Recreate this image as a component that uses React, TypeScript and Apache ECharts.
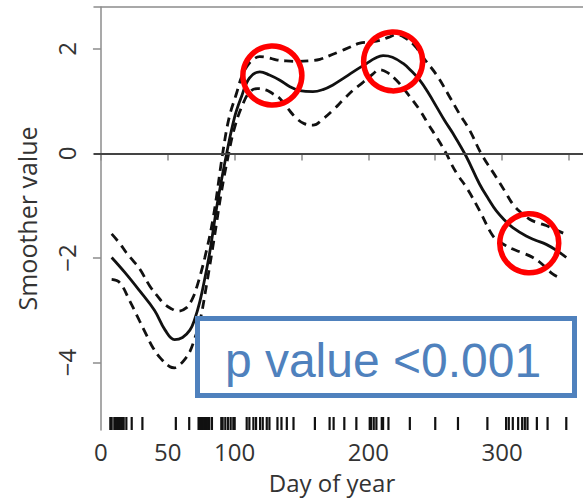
import React, { useEffect, useRef } from "react";
import * as echarts from "echarts";

// ---- data ----
const fitDays = [8, 18, 29, 40, 48, 55, 61, 66.5, 70, 74, 78, 81.5, 87.4, 94, 100, 105, 111, 118.8, 126, 133.8, 141, 148.7, 158.5, 166, 173.5, 181, 188.6, 198.6, 205, 211, 218, 226, 232, 238.4, 245, 251, 257, 263.3, 273, 283, 290, 295.7, 302, 308, 318, 325, 333, 341, 348];
const fitValues = [-1.99, -2.28, -2.63, -3.0, -3.38, -3.56, -3.52, -3.38, -3.18, -2.83, -2.35, -1.87, -0.9, 0.0, 0.7, 1.08, 1.44, 1.56, 1.5, 1.4, 1.28, 1.2, 1.18, 1.22, 1.31, 1.43, 1.56, 1.72, 1.82, 1.87, 1.84, 1.72, 1.58, 1.4, 1.15, 0.89, 0.63, 0.38, -0.05, -0.58, -0.88, -1.1, -1.28, -1.42, -1.58, -1.66, -1.74, -1.86, -1.99];

const upperDays = [8, 14, 19, 24, 29, 36.6, 42, 46.6, 52, 57.8, 64, 68, 71.5, 77.7, 84, 91.4, 96, 101.4, 105, 109, 114, 118.8, 125, 131, 138, 146, 155, 163.7, 171, 178.6, 186, 193.6, 201, 208.5, 215, 221, 228, 235, 242, 251, 260.8, 268, 275.8, 284.5, 295.7, 302, 308, 314, 320.6, 327, 333, 340, 347];
const upperValues = [-1.54, -1.72, -1.9, -2.05, -2.21, -2.54, -2.72, -2.86, -2.96, -3.02, -2.95, -2.8, -2.57, -1.99, -1.22, 0.06, 0.7, 1.15, 1.45, 1.66, 1.8, 1.85, 1.83, 1.79, 1.77, 1.76, 1.77, 1.8, 1.87, 1.95, 2.03, 2.11, 2.13, 2.16, 2.22, 2.27, 2.2, 2.05, 1.8, 1.5, 1.08, 0.76, 0.44, -0.01, -0.46, -0.72, -0.97, -1.13, -1.26, -1.33, -1.38, -1.46, -1.54];

const lowerDays = [8, 14, 21.7, 29, 34, 39, 45, 51.6, 55, 59, 63, 66.5, 70, 74, 79, 85.2, 90, 95, 100, 106.4, 111.4, 117, 123.8, 128, 133.8, 140, 146.3, 152, 158.7, 166, 173.6, 181, 188.6, 196, 203.5, 208, 214, 221, 230, 238.4, 245, 251, 258.4, 262, 267, 273.3, 283.3, 293.2, 300, 308, 315, 323, 330, 338, 345];
const lowerValues = [-2.41, -2.47, -2.83, -3.21, -3.47, -3.72, -3.93, -4.08, -4.1, -4.04, -3.93, -3.79, -3.55, -3.21, -2.51, -1.54, -0.75, -0.07, 0.5, 0.96, 1.18, 1.24, 1.21, 1.15, 1.05, 0.85, 0.67, 0.57, 0.54, 0.66, 0.83, 1.02, 1.21, 1.36, 1.52, 1.6, 1.55, 1.4, 1.12, 0.83, 0.55, 0.31, -0.01, -0.2, -0.42, -0.65, -1.1, -1.58, -1.72, -1.83, -1.9, -1.99, -2.12, -2.31, -2.4];

const rugDays = [7, 8, 10, 11, 12, 13, 14, 15, 16, 17, 19, 23, 31, 56, 66, 73, 74, 75, 76, 77, 78, 79, 80, 81, 83, 90, 91, 93, 95, 97, 99, 100, 109, 111, 114, 116, 119, 121, 124, 126, 132, 135, 139, 144, 160, 171, 174, 182, 191, 201, 202, 204, 206, 210, 211, 215, 231, 250, 267, 289, 303, 305, 308, 312, 315, 317, 319, 326, 334, 348];

const highlightDays = [128.2, 218.5, 320.3];
const highlightValues = [1.49, 1.76, -1.72];

const xTicks = [0, 50, 100, 150, 200, 250, 300, 350];
const xTickLabels = [0, 50, 100, 200, 300];
const yTicks = [-4, -2, 0, 2];

const pValueText = "p value <0.001";
const xTitle = "Day of year";
const yTitle = "Smoother value";

const X_MIN = -5.2;
const X_MAX = 360.5;
const Y_MIN = -5.29;
const Y_MAX = 2.8;

const zip = (xs: number[], ys: number[]) => xs.map((x, i) => [x, ys[i]]);

export default function App() {
  const ref = useRef<HTMLDivElement>(null);

  useEffect(() => {
    if (!ref.current) return;
    const chart = echarts.init(ref.current, null, { renderer: "svg" });
    const axisFont = "'Open Sans', 'DejaVu Sans', sans-serif";
    const frameColor = "#8c8c8c";
    const textColor = "#333333";
    const minus = (v: number) => (v < 0 ? "\u2212" + Math.abs(v) : String(v));

    chart.setOption({
      animation: false,
      backgroundColor: "#ffffff",
      grid: { left: 94, top: 7, right: 0, bottom: 72, show: false },
      xAxis: [
        {
          type: "value",
          min: X_MIN,
          max: X_MAX,
          position: "bottom",
          name: xTitle,
          nameLocation: "middle",
          nameGap: 40,
          nameTextStyle: { fontFamily: axisFont, fontSize: 24, color: textColor, padding: [0, 13, 0, 0] },
          axisLine: { show: true, lineStyle: { color: frameColor, width: 1.5 } },
          axisTick: { show: true, customValues: xTicks, length: 7, lineStyle: { color: frameColor, width: 1.5 } },
          axisLabel: {
            customValues: xTickLabels,
            fontFamily: axisFont,
            fontSize: 24,
            color: textColor,
            margin: 9,
          },
          splitLine: { show: false },
        },
        {
          type: "value",
          min: X_MIN,
          max: X_MAX,
          position: "top",
          axisLine: { show: true, lineStyle: { color: frameColor, width: 1.5 } },
          axisTick: { show: false },
          axisLabel: { show: false },
          splitLine: { show: false },
        },
      ],
      yAxis: {
        type: "value",
        min: Y_MIN,
        max: Y_MAX,
        name: yTitle,
        nameLocation: "middle",
        nameGap: 55,
        nameRotate: 90,
        nameTextStyle: { fontFamily: axisFont, fontSize: 25, color: textColor },
        axisLine: { show: true, lineStyle: { color: frameColor, width: 1.5 } },
        axisTick: { show: true, customValues: yTicks, length: 8, lineStyle: { color: frameColor, width: 1.5 } },
        axisLabel: {
          customValues: yTicks,
          rotate: 90,
          fontFamily: axisFont,
          fontSize: 24,
          color: textColor,
          margin: 16,
          formatter: (v: number) => minus(v),
        },
        splitLine: { show: false },
      },
      series: [
        {
          type: "line",
          data: zip(fitDays, fitValues),
          smooth: 0.4,
          showSymbol: false,
          lineStyle: { color: "#111111", width: 2.8 },
          z: 3,
          markLine: {
            silent: true,
            symbol: "none",
            label: { show: false },
            lineStyle: { color: "#444444", width: 2, type: "solid" },
            data: [{ yAxis: 0 }],
          },
        },
        {
          type: "line",
          data: zip(upperDays, upperValues),
          smooth: 0.4,
          showSymbol: false,
          lineStyle: { color: "#111111", width: 2.8, type: [9, 6] },
          z: 3,
        },
        {
          type: "line",
          data: zip(lowerDays, lowerValues),
          smooth: 0.4,
          showSymbol: false,
          lineStyle: { color: "#111111", width: 2.8, type: [9, 6] },
          z: 3,
        },
        {
          type: "custom",
          data: rugDays.map((d) => [d, Y_MIN]),
          encode: { x: 0, y: 1 },
          silent: true,
          renderItem: (_params: any, api: any) => {
            const p = api.coord([api.value(0), Y_MIN]);
            return {
              type: "line",
              shape: { x1: p[0], y1: p[1], x2: p[0], y2: p[1] - 13 },
              style: { stroke: "#111111", lineWidth: 2.2 },
            };
          },
          z: 4,
        },
        {
          type: "scatter",
          data: zip(highlightDays, highlightValues),
          symbol: "circle",
          symbolSize: 59,
          silent: true,
          itemStyle: { color: "rgba(0,0,0,0)", borderColor: "#ff0000", borderWidth: 5.5, opacity: 1 },
          z: 6,
        },
      ],
      graphic: [
        {
          type: "rect",
          shape: { x: 197.5, y: 318.5, width: 377, height: 77 },
          style: { fill: "#ffffff", stroke: "#4f81bd", lineWidth: 5 },
          z: 100,
        },
        {
          type: "text",
          x: 383,
          y: 360,
          style: {
            text: pValueText,
            fill: "#4f81bd",
            font: "48px 'Liberation Sans', Arial, sans-serif",
            textAlign: "center",
            textVerticalAlign: "middle",
          },
          z: 101,
        },
      ],
    });

    return () => chart.dispose();
  }, []);

  return (
    <div
      ref={ref}
      style={{ position: "fixed", left: 0, top: 0, width: 583, height: 502, background: "#ffffff" }}
    />
  );
}
